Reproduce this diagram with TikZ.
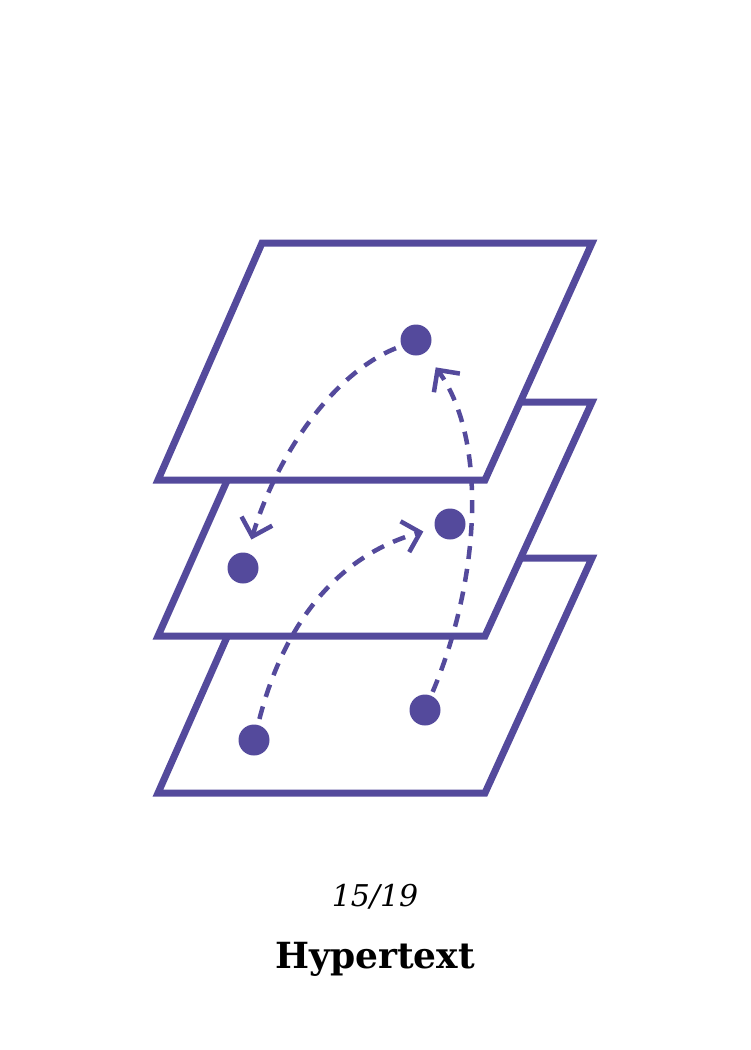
\documentclass[tikz,border=0pt]{standalone}
\usepackage{fontspec}
\setmainfont{DejaVu Serif}
\usepackage{tikz}
\usetikzlibrary{arrows.meta}
\definecolor{hyperpurple}{RGB}{84,74,156}

\begin{document}
\begin{tikzpicture}[
    x=1pt, y=-1pt,
    layer/.style={draw=hyperpurple, fill=white, line width=7pt, line join=miter},
    dot/.style={circle, fill=hyperpurple, inner sep=0pt, minimum size=31pt},
    link/.style={draw=hyperpurple, line width=4.5pt, dash pattern=on 13pt off 10pt,
                 -{Straight Barb[length=16pt, width=32pt]}}
]
\useasboundingbox (0,0) rectangle (750,1050);

% three stacked pages, bottom first
\draw[layer] (262,558) -- (592,558) -- (485,793) -- (158,793) -- cycle;
\draw[layer] (262,402) -- (592,402) -- (485,636) -- (158,636) -- cycle;
\draw[layer] (262,243) -- (592,243) -- (485,480) -- (158,480) -- cycle;

\node[dot] (top) at (416,340) {};
\node[dot] (midL) at (243,568) {};
\node[dot] (midR) at (450,524) {};
\node[dot] (botL) at (254,740) {};
\node[dot] (botR) at (425,710) {};

% links between pages
\draw[link, shorten <=6pt, shorten >=14pt] (top) .. controls (330,375) and (275,460) .. (midL);
\draw[link, shorten <=6pt, shorten >=12pt] (botL) .. controls (285,620) and (340,555) .. (midR);
\draw[link, shorten <=4pt, shorten >=18pt] (botR) .. controls (480,580) and (488,440) .. (top);

\node[font=\itshape\fontsize{30}{36}\selectfont] (count) at (375,897) {15/19};
\node[font=\bfseries\fontsize{36}{44}\selectfont] (title) at (375,959) {Hypertext};
\end{tikzpicture}
\end{document}
